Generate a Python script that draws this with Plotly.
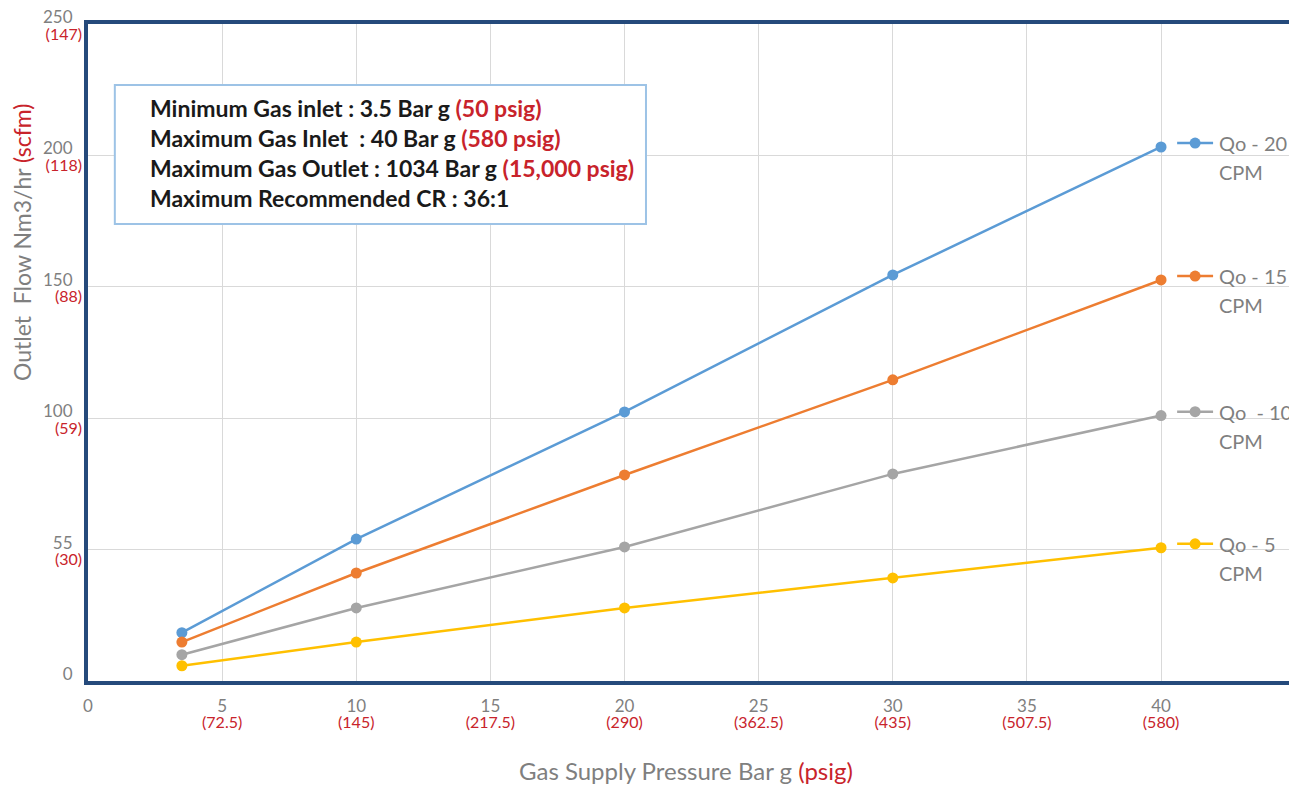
import plotly.graph_objects as go

pressure = [3.5, 10, 20, 30, 40]
qo20 = [18.4, 54.0, 102.4, 154.5, 203.2]
qo15 = [14.8, 41.1, 78.4, 114.6, 152.6]
qo10 = [10.0, 27.8, 51.0, 78.8, 101.0]
qo5 = [5.8, 14.8, 27.8, 39.2, 50.7]

series_names = ["Qo - 20", "Qo - 15", "Qo  - 10", "Qo - 5"]
series_values = [qo20, qo15, qo10, qo5]
colors = ["#5b9bd5", "#ed7d31", "#a5a5a5", "#ffc000"]

x_tick_vals = [0, 5, 10, 15, 20, 25, 30, 35, 40]
x_tick_main = ["0", "5", "10", "15", "20", "25", "30", "35", "40"]
x_tick_psig = ["", "(72.5)", "(145)", "(217.5)", "(290)", "(362.5)", "(435)", "(507.5)", "(580)"]

y_tick_vals = [0, 50, 100, 150, 200, 250]
y_tick_main = ["0", "55", "100", "150", "200", "250"]
y_tick_scfm = ["", "(30)", "(59)", "(88)", "(118)", "(147)"]

info_lines = [
    ("Minimum Gas inlet : 3.5 Bar g ", "(50 psig)"),
    ("Maximum Gas Inlet  : 40 Bar g ", "(580 psig)"),
    ("Maximum Gas Outlet : 1034 Bar g ", "(15,000 psig)"),
    ("Maximum Recommended CR : 36:1", ""),
]

RED = "#c8232b"
GRAY = "#7f7f7f"
FRAME = "#254a7b"
FONT = "Lato"

W, H = 1289, 786
L, R, T, B = 88, 0, 24, 105
PW, PH = W - L - R, H - T - B

fig = go.Figure()
for name, vals, c in zip(series_names, series_values, colors):
    fig.add_trace(go.Scatter(x=pressure, y=vals, mode="lines+markers", name=name,
                             line=dict(color=c, width=2.5), marker=dict(color=c, size=11),
                             showlegend=False))
# invisible trace to activate the secondary (red label) axes
fig.add_trace(go.Scatter(x=pressure, y=qo5, xaxis="x2", yaxis="y2", mode="lines",
                         line=dict(width=0), opacity=0, showlegend=False, hoverinfo="skip"))

# legend-like labels next to line ends
for name, vals, c in zip(series_names, series_values, colors):
    yv = vals[-1] + 1.5
    x0 = pressure[-1]
    fig.add_trace(go.Scatter(x=[x0 + 0.6, x0 + 1.27, x0 + 1.94], y=[yv] * 3,
                             mode="lines", line=dict(color=c, width=2.5),
                             showlegend=False, hoverinfo="skip"))
    fig.add_trace(go.Scatter(x=[x0 + 1.27], y=[yv], mode="markers",
                             marker=dict(color=c, size=11), showlegend=False, hoverinfo="skip"))
    fig.add_annotation(x=x0 + 2.1, y=yv, xref="x", yref="y", text=name,
                       showarrow=False, xanchor="left", yanchor="middle",
                       font=dict(family=FONT, size=20, color=GRAY))
    fig.add_annotation(x=x0 + 2.1, y=yv - 11, xref="x", yref="y", text="CPM",
                       showarrow=False, xanchor="left", yanchor="middle",
                       font=dict(family=FONT, size=20, color=GRAY))

# info box
fig.add_shape(type="rect", xref="x", yref="y", x0=1.0, x1=20.8, y0=173.9, y1=226.8,
              line=dict(color="#9dc3e6", width=2), fillcolor="white", layer="above")
for i, (txt, red) in enumerate(info_lines):
    t = f"<b>{txt}</b>"
    if red:
        t += f"<b><span style='color:{RED}'>{red}</span></b>"
    fig.add_annotation(x=(148 - L) / PW, y=1 - (108 + 30 * i - T) / PH, xref="paper", yref="paper",
                       text=t, showarrow=False, xanchor="left", yanchor="middle",
                       font=dict(family=FONT, size=23, color="#1a1a1a"))

# axis titles
fig.add_annotation(x=(686 - L) / PW, y=-(770 - (T + PH)) / PH, xref="paper", yref="paper",
                   text=f"Gas Supply Pressure Bar g <span style='color:{RED}'>(psig)</span>",
                   showarrow=False, xanchor="center", yanchor="middle",
                   font=dict(family=FONT, size=24, color=GRAY))
fig.add_annotation(x=(22 - L) / PW, y=1 - (243 - T) / PH, xref="paper", yref="paper",
                   text=f"Outlet  Flow Nm3/hr <span style='color:{RED}'>(scfm)</span>",
                   textangle=-90, showarrow=False, xanchor="center", yanchor="middle",
                   font=dict(family=FONT, size=23, color=GRAY))

fig.update_layout(
    width=W, height=H,
    margin=dict(l=L, r=R, t=T, b=B),
    plot_bgcolor="white", paper_bgcolor="white",
    font=dict(family=FONT, size=17, color=GRAY),
    xaxis=dict(range=[0, 44.77], tickmode="array", tickvals=x_tick_vals, ticktext=x_tick_main,
               showgrid=True, gridcolor="#d9d9d9", gridwidth=1,
               showline=True, linecolor=FRAME, linewidth=4, mirror=True,
               zeroline=False, ticks="", ticklabelstandoff=7,
               tickfont=dict(family=FONT, size=17, color=GRAY)),
    xaxis2=dict(range=[0, 44.77], overlaying="x", anchor="y", side="bottom", matches="x",
                tickmode="array", tickvals=x_tick_vals, ticktext=x_tick_psig,
                showgrid=False, showline=False, zeroline=False, ticks="", ticklabelstandoff=30,
                tickfont=dict(family=FONT, size=16, color=RED)),
    yaxis=dict(range=[0, 250], tickmode="array", tickvals=y_tick_vals, ticktext=y_tick_main,
               showgrid=True, gridcolor="#d9d9d9", gridwidth=1,
               showline=True, linecolor=FRAME, linewidth=4, mirror=False,
               zeroline=False, ticks="", ticklabelstandoff=8, ticklabelshift=-7,
               tickfont=dict(family=FONT, size=17, color=GRAY)),
    yaxis2=dict(range=[0, 250], overlaying="y", anchor="x", side="left", matches="y",
                tickmode="array", tickvals=y_tick_vals, ticktext=y_tick_scfm,
                showgrid=False, showline=False, zeroline=False, ticks="",
                ticklabelstandoff=5, ticklabelshift=10,
                tickfont=dict(family=FONT, size=16, color=RED)),
)
fig.write_html("out.html", config={"displayModeBar": False},
               post_script="document.body.style.margin='0';document.body.style.overflow='hidden';")
